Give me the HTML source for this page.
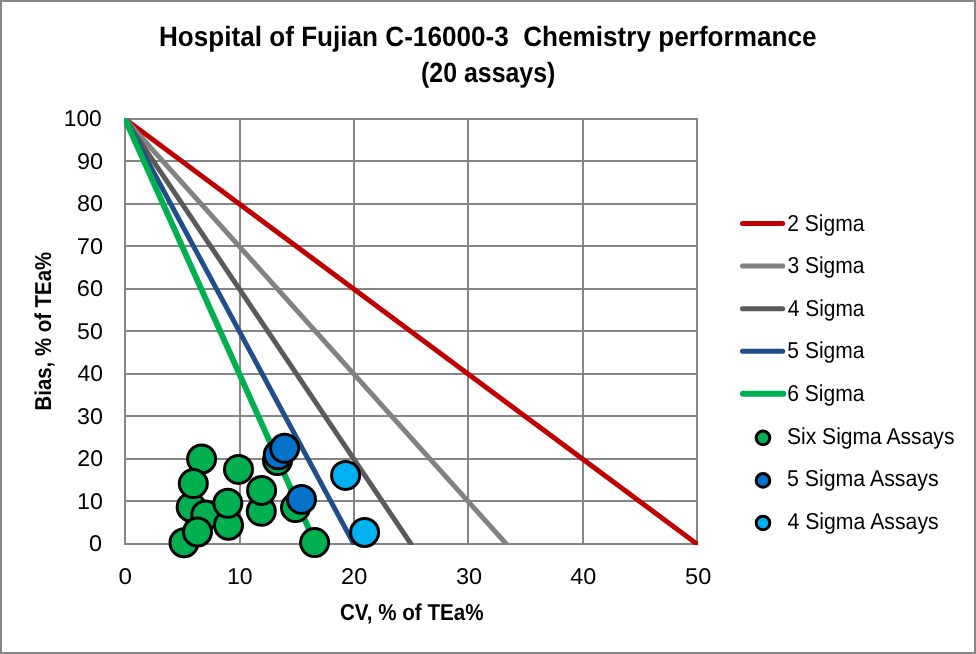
<!DOCTYPE html><html><head><meta charset="utf-8"><style>html,body{margin:0;padding:0;background:#fff;width:976px;height:654px;overflow:hidden}svg{display:block;will-change:transform}text{font-family:"Liberation Sans", sans-serif;text-rendering:geometricPrecision}</style></head><body>
<svg width="976" height="654" viewBox="0 0 976 654">
<rect x="0" y="0" width="976" height="654" fill="#ffffff"/>
<rect x="1" y="1" width="974" height="652" fill="none" stroke="#878787" stroke-width="2"/>
<line x1="125" y1="118" x2="125" y2="545" stroke="#868686" stroke-width="2"/>
<line x1="240" y1="118" x2="240" y2="545" stroke="#868686" stroke-width="2"/>
<line x1="354" y1="118" x2="354" y2="545" stroke="#868686" stroke-width="2"/>
<line x1="468" y1="118" x2="468" y2="545" stroke="#868686" stroke-width="2"/>
<line x1="583" y1="118" x2="583" y2="545" stroke="#868686" stroke-width="2"/>
<line x1="697" y1="118" x2="697" y2="545" stroke="#868686" stroke-width="2"/>
<line x1="124" y1="119" x2="698" y2="119" stroke="#868686" stroke-width="2"/>
<line x1="124" y1="161" x2="698" y2="161" stroke="#868686" stroke-width="2"/>
<line x1="124" y1="204" x2="698" y2="204" stroke="#868686" stroke-width="2"/>
<line x1="124" y1="246" x2="698" y2="246" stroke="#868686" stroke-width="2"/>
<line x1="124" y1="289" x2="698" y2="289" stroke="#868686" stroke-width="2"/>
<line x1="124" y1="331" x2="698" y2="331" stroke="#868686" stroke-width="2"/>
<line x1="124" y1="374" x2="698" y2="374" stroke="#868686" stroke-width="2"/>
<line x1="124" y1="416" x2="698" y2="416" stroke="#868686" stroke-width="2"/>
<line x1="124" y1="459" x2="698" y2="459" stroke="#868686" stroke-width="2"/>
<line x1="124" y1="501" x2="698" y2="501" stroke="#868686" stroke-width="2"/>
<line x1="124" y1="544" x2="698" y2="544" stroke="#868686" stroke-width="2"/>
<defs><clipPath id="pa"><rect x="124" y="118" width="574" height="427"/></clipPath></defs><g clip-path="url(#pa)">
<line x1="125.00" y1="119.00" x2="697.00" y2="544.00" stroke="#C00000" stroke-width="5" stroke-linecap="round"/>
<line x1="125.00" y1="119.00" x2="506.33" y2="544.00" stroke="#828282" stroke-width="5" stroke-linecap="round"/>
<line x1="125.00" y1="119.00" x2="411.00" y2="544.00" stroke="#5A5A5A" stroke-width="5" stroke-linecap="round"/>
<line x1="125.00" y1="119.00" x2="353.80" y2="544.00" stroke="#1F4E8A" stroke-width="5" stroke-linecap="round"/>
<line x1="125.00" y1="119.00" x2="315.67" y2="544.00" stroke="#00B050" stroke-width="6" stroke-linecap="round"/>
</g>
<circle cx="201.60" cy="459.00" r="14.00" fill="#00B050" stroke="#000" stroke-width="3"/>
<circle cx="191.20" cy="507.20" r="14.00" fill="#00B050" stroke="#000" stroke-width="3"/>
<circle cx="193.30" cy="483.60" r="14.00" fill="#00B050" stroke="#000" stroke-width="3"/>
<circle cx="184.00" cy="542.70" r="14.00" fill="#00B050" stroke="#000" stroke-width="3"/>
<circle cx="205.70" cy="515.00" r="14.00" fill="#00B050" stroke="#000" stroke-width="3"/>
<circle cx="197.50" cy="532.00" r="14.00" fill="#00B050" stroke="#000" stroke-width="3"/>
<circle cx="228.50" cy="525.20" r="14.00" fill="#00B050" stroke="#000" stroke-width="3"/>
<circle cx="227.80" cy="503.30" r="14.00" fill="#00B050" stroke="#000" stroke-width="3"/>
<circle cx="238.50" cy="469.40" r="14.00" fill="#00B050" stroke="#000" stroke-width="3"/>
<circle cx="261.30" cy="511.30" r="14.00" fill="#00B050" stroke="#000" stroke-width="3"/>
<circle cx="261.60" cy="490.40" r="14.00" fill="#00B050" stroke="#000" stroke-width="3"/>
<circle cx="277.50" cy="460.60" r="14.00" fill="#00B050" stroke="#000" stroke-width="3"/>
<circle cx="295.50" cy="507.60" r="14.00" fill="#00B050" stroke="#000" stroke-width="3"/>
<circle cx="314.60" cy="542.60" r="14.00" fill="#00B050" stroke="#000" stroke-width="3"/>
<circle cx="278.30" cy="454.80" r="14.00" fill="#0472C8" stroke="#000" stroke-width="3"/>
<circle cx="284.60" cy="448.30" r="14.00" fill="#0472C8" stroke="#000" stroke-width="3"/>
<circle cx="301.50" cy="499.40" r="14.00" fill="#0472C8" stroke="#000" stroke-width="3"/>
<circle cx="345.60" cy="475.40" r="14.00" fill="#00B0F0" stroke="#000" stroke-width="3"/>
<circle cx="364.60" cy="532.50" r="14.00" fill="#00B0F0" stroke="#000" stroke-width="3"/>
<text x="158.95" y="45.90" font-size="28.00" font-weight="bold" textLength="657.54" lengthAdjust="spacingAndGlyphs" text-anchor="start" fill="#000" xml:space="preserve">Hospital of Fujian C-16000-3  Chemistry performance</text>
<text x="421.06" y="81.60" font-size="28.00" font-weight="bold" textLength="134.28" lengthAdjust="spacingAndGlyphs" text-anchor="start" fill="#000" xml:space="preserve">(20 assays)</text>
<text x="63.76" y="125.70" font-size="22.80" textLength="38.03" lengthAdjust="spacingAndGlyphs" text-anchor="start" fill="#000" xml:space="preserve">100</text>
<text x="76.90" y="168.70" font-size="22.80" textLength="26.12" lengthAdjust="spacingAndGlyphs" text-anchor="start" fill="#000" xml:space="preserve">90</text>
<text x="76.98" y="210.70" font-size="22.80" textLength="26.03" lengthAdjust="spacingAndGlyphs" text-anchor="start" fill="#000" xml:space="preserve">80</text>
<text x="76.79" y="253.70" font-size="22.80" textLength="26.23" lengthAdjust="spacingAndGlyphs" text-anchor="start" fill="#000" xml:space="preserve">70</text>
<text x="76.80" y="295.70" font-size="22.80" textLength="26.22" lengthAdjust="spacingAndGlyphs" text-anchor="start" fill="#000" xml:space="preserve">60</text>
<text x="77.07" y="338.70" font-size="22.80" textLength="25.73" lengthAdjust="spacingAndGlyphs" text-anchor="start" fill="#000" xml:space="preserve">50</text>
<text x="77.47" y="380.70" font-size="22.80" textLength="25.52" lengthAdjust="spacingAndGlyphs" text-anchor="start" fill="#000" xml:space="preserve">40</text>
<text x="77.11" y="423.70" font-size="22.80" textLength="25.90" lengthAdjust="spacingAndGlyphs" text-anchor="start" fill="#000" xml:space="preserve">30</text>
<text x="77.34" y="465.70" font-size="22.80" textLength="25.66" lengthAdjust="spacingAndGlyphs" text-anchor="start" fill="#000" xml:space="preserve">20</text>
<text x="77.13" y="508.70" font-size="22.80" textLength="25.88" lengthAdjust="spacingAndGlyphs" text-anchor="start" fill="#000" xml:space="preserve">10</text>
<text x="88.98" y="550.70" font-size="22.80" textLength="13.03" lengthAdjust="spacingAndGlyphs" text-anchor="start" fill="#000" xml:space="preserve">0</text>
<text x="118.55" y="583.70" font-size="22.80" textLength="13.50" lengthAdjust="spacingAndGlyphs" text-anchor="start" fill="#000" xml:space="preserve">0</text>
<text x="227.04" y="583.70" font-size="22.80" textLength="25.66" lengthAdjust="spacingAndGlyphs" text-anchor="start" fill="#000" xml:space="preserve">10</text>
<text x="341.12" y="583.70" font-size="22.80" textLength="26.21" lengthAdjust="spacingAndGlyphs" text-anchor="start" fill="#000" xml:space="preserve">20</text>
<text x="456.01" y="583.70" font-size="22.80" textLength="26.11" lengthAdjust="spacingAndGlyphs" text-anchor="start" fill="#000" xml:space="preserve">30</text>
<text x="570.16" y="583.70" font-size="22.80" textLength="26.05" lengthAdjust="spacingAndGlyphs" text-anchor="start" fill="#000" xml:space="preserve">40</text>
<text x="685.06" y="583.70" font-size="22.80" textLength="26.16" lengthAdjust="spacingAndGlyphs" text-anchor="start" fill="#000" xml:space="preserve">50</text>
<text x="339.97" y="619.60" font-size="23.00" font-weight="bold" textLength="143.57" lengthAdjust="spacingAndGlyphs" text-anchor="start" fill="#000" xml:space="preserve">CV, % of TEa%</text>
<g transform="translate(51.1,661.50) rotate(-90)"><text x="251.04" y="0.00" font-size="23.00" font-weight="bold" textLength="158.60" lengthAdjust="spacingAndGlyphs" text-anchor="start" fill="#000" xml:space="preserve">Bias, % of TEa%</text></g>
<line x1="742.50" y1="223.60" x2="782.70" y2="223.60" stroke="#C00000" stroke-width="5" stroke-linecap="round"/>
<text x="787.14" y="230.90" font-size="23.00" textLength="77.36" lengthAdjust="spacingAndGlyphs" text-anchor="start" fill="#000" xml:space="preserve">2 Sigma</text>
<line x1="742.50" y1="266.12" x2="782.70" y2="266.12" stroke="#828282" stroke-width="5" stroke-linecap="round"/>
<text x="787.40" y="273.42" font-size="23.00" textLength="77.10" lengthAdjust="spacingAndGlyphs" text-anchor="start" fill="#000" xml:space="preserve">3 Sigma</text>
<line x1="742.50" y1="308.64" x2="782.70" y2="308.64" stroke="#5A5A5A" stroke-width="5" stroke-linecap="round"/>
<text x="787.72" y="315.94" font-size="23.00" textLength="76.78" lengthAdjust="spacingAndGlyphs" text-anchor="start" fill="#000" xml:space="preserve">4 Sigma</text>
<line x1="742.50" y1="351.16" x2="782.70" y2="351.16" stroke="#1F4E8A" stroke-width="5" stroke-linecap="round"/>
<text x="787.36" y="358.46" font-size="23.00" textLength="77.14" lengthAdjust="spacingAndGlyphs" text-anchor="start" fill="#000" xml:space="preserve">5 Sigma</text>
<line x1="743.00" y1="393.68" x2="783.20" y2="393.68" stroke="#00B050" stroke-width="6" stroke-linecap="round"/>
<text x="787.13" y="400.98" font-size="23.00" textLength="77.37" lengthAdjust="spacingAndGlyphs" text-anchor="start" fill="#000" xml:space="preserve">6 Sigma</text>
<circle cx="763.00" cy="437.90" r="6.80" fill="#00B050" stroke="#000" stroke-width="3"/>
<text x="786.95" y="443.50" font-size="23.00" textLength="167.51" lengthAdjust="spacingAndGlyphs" text-anchor="start" fill="#000" xml:space="preserve">Six Sigma Assays</text>
<circle cx="763.00" cy="480.42" r="6.80" fill="#0472C8" stroke="#000" stroke-width="3"/>
<text x="787.05" y="486.02" font-size="23.00" textLength="151.61" lengthAdjust="spacingAndGlyphs" text-anchor="start" fill="#000" xml:space="preserve">5 Sigma Assays</text>
<circle cx="763.00" cy="522.94" r="6.80" fill="#00B0F0" stroke="#000" stroke-width="3"/>
<text x="787.42" y="528.54" font-size="23.00" textLength="151.25" lengthAdjust="spacingAndGlyphs" text-anchor="start" fill="#000" xml:space="preserve">4 Sigma Assays</text>
</svg></body></html>
